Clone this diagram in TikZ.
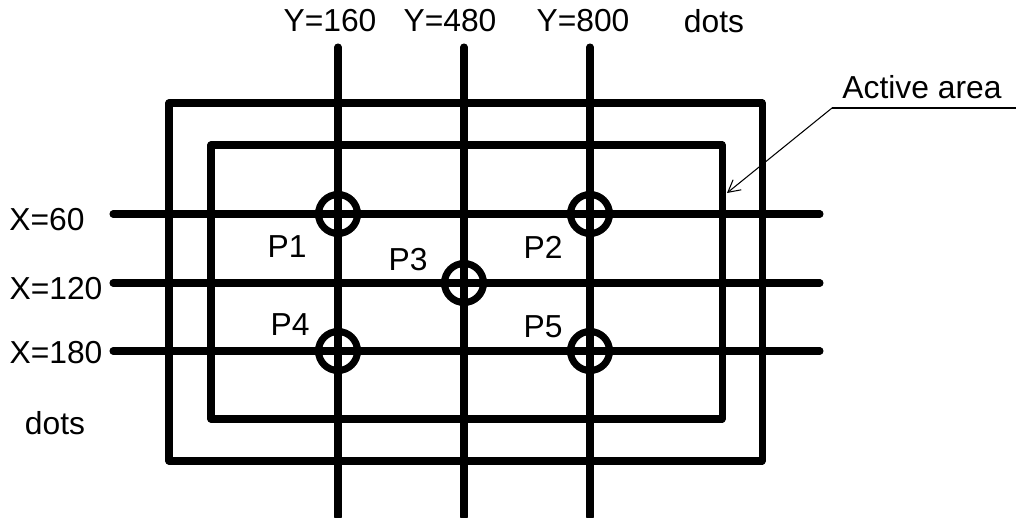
\documentclass[tikz,border=0pt]{standalone}
\usepackage{fontspec}
\setmainfont{Liberation Sans}
\usetikzlibrary{arrows.meta}

\begin{document}
\begin{tikzpicture}[x=0.02cm, y=-0.02cm,
  lbl/.style={font=\fontsize{18.1}{21}\selectfont, inner sep=0pt},
  gridline/.style={line width=4pt, line cap=round},
  frame/.style={line width=4pt, line join=round},
  tpoint/.style={circle, draw, line width=4pt, minimum size=0.78cm, inner sep=0pt}
]
  \useasboundingbox (0,0) rectangle (1016,517);

  % Frames
  \draw[frame] (169,103) rectangle (762,461);
  \draw[frame] (211,145) rectangle (722,419);

  % Grid lines
  \foreach \x in {338,464,590}
    \draw[gridline] (\x,47) -- (\x,517);
  \foreach \y in {214,283,351}
    \draw[gridline] (113,\y) -- (820,\y);

  % Touch points
  \node[tpoint] (p1) at (338,214) {};
  \node[tpoint] (p2) at (590,214) {};
  \node[tpoint] (p3) at (464,283) {};
  \node[tpoint] (p4) at (338,351) {};
  \node[tpoint] (p5) at (590,351) {};

  % Labels
  \node[lbl] (y160) at (330,21) {Y=160};
  \node[lbl] (y480) at (450,21) {Y=480};
  \node[lbl] (y800) at (583,21) {Y=800};
  \node[lbl] (ydots) at (714,21) {dots};
  \node[lbl] (x60) at (47,220) {X=60};
  \node[lbl] (x120) at (56,289) {X=120};
  \node[lbl] (x180) at (56,353) {X=180};
  \node[lbl] (xdots) at (55,423) {dots};
  \node[lbl] (l1) at (287,247) {P1};
  \node[lbl] (l2) at (543,247) {P2};
  \node[lbl] (l3) at (408,260) {P3};
  \node[lbl] (l4) at (290,325) {P4};
  \node[lbl] (l5) at (543,327) {P5};

  % Active area callout
  \node[lbl] (active) at (922,87) {Active area};
  \coordinate (kink) at (832,108);
  \coordinate (activept) at (727,193);
  \draw[line width=0.6pt] (1016,108) -- (kink);
  \draw[line width=0.6pt, -{Straight Barb[length=2.4mm, width=2.6mm]}] (kink) -- (activept);
\end{tikzpicture}
\end{document}
